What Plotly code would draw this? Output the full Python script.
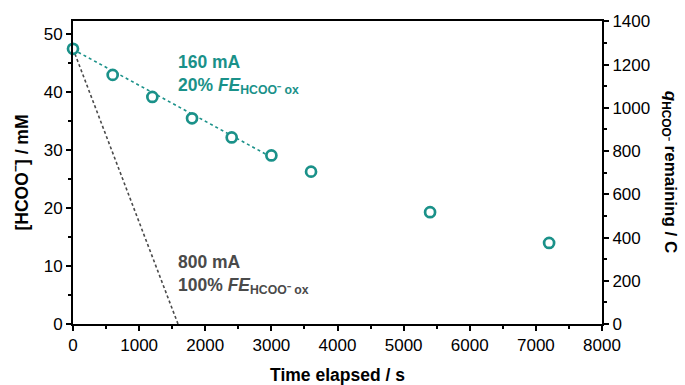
import plotly.graph_objects as go

# Data
time_s = [0, 600, 1200, 1800, 2400, 3000, 3600, 5400, 7200]
hcoo_mM = [47.5, 43.0, 39.2, 35.5, 32.2, 29.1, 26.3, 19.3, 14.0]
fit_160_x = [0, 3000]
fit_160_y = [47.4, 28.8]
theory_800_x = [0, 1588]
theory_800_y = [47.5, 0]
x_ticks = [0, 1000, 2000, 3000, 4000, 5000, 6000, 7000, 8000]
y_ticks = [0, 10, 20, 30, 40, 50]
y2_ticks = [0, 200, 400, 600, 800, 1000, 1200, 1400]

TEAL = "#1a9189"
GRAY = "#4a4a4a"
FONT = "Liberation Sans, Arial, sans-serif"

fig = go.Figure()
fig.add_trace(go.Scatter(x=theory_800_x, y=theory_800_y, mode="lines",
                         line=dict(color=GRAY, width=1.6, dash="3px,2.5px"),
                         showlegend=False, hoverinfo="skip"))
fig.add_trace(go.Scatter(x=fit_160_x, y=fit_160_y, mode="lines",
                         line=dict(color=TEAL, width=1.6, dash="3px,3px"),
                         showlegend=False, hoverinfo="skip"))
fig.add_trace(go.Scatter(x=time_s, y=hcoo_mM, mode="markers",
                         marker=dict(symbol="circle", size=10, color="white",
                                     line=dict(color=TEAL, width=2.7)),
                         showlegend=False, cliponaxis=False))
# invisible trace to anchor the secondary axis
fig.add_trace(go.Scatter(x=[0], y=[0], yaxis="y2", mode="markers",
                         marker=dict(opacity=0), showlegend=False, hoverinfo="skip"))

axis_common = dict(showgrid=False, zeroline=False, showline=True, linecolor="black",
                   linewidth=2, ticks="outside", ticklen=5, tickwidth=2, tickcolor="black",
                   automargin=False,
                   tickfont=dict(family=FONT, size=17, color="black"))

fig.update_layout(
    width=685, height=385,
    margin=dict(l=73, r=83, t=21, b=61),
    plot_bgcolor="white", paper_bgcolor="white",
    xaxis=dict(range=[0, 8000], tickvals=x_ticks, mirror=True,
               minor=dict(ticks="outside", ticklen=3, tickwidth=2, dtick=500, tickcolor="black"),
               title=dict(text="<b>Time elapsed / s</b>", font=dict(family=FONT, size=17.5, color="black"),
                          standoff=14),
               **axis_common),
    yaxis=dict(range=[0, 52.3], tickvals=y_ticks,
               minor=dict(ticks="outside", ticklen=3, tickwidth=2, dtick=5, tickcolor="black"),
               title=dict(text="<b>[HCOO<sup>−</sup>] / mM</b>", font=dict(family=FONT, size=17.5, color="black"),
                          standoff=11),
               **axis_common),
    yaxis2=dict(range=[0, 1402], tickvals=y2_ticks, overlaying="y", side="right",
                minor=dict(ticks="outside", ticklen=3, tickwidth=2, dtick=100, tickcolor="black"),
                **axis_common),
)

fig.add_annotation(xref="paper", yref="paper", x=1.128, y=0.5, xanchor="center", yanchor="middle",
                   text="<b><i>q</i><sub>HCOO⁻</sub> remaining / C</b>", textangle=90, showarrow=False,
                   font=dict(family=FONT, size=17, color="black"))

fig.add_annotation(xref="x", yref="y", x=1560, y=47.3, xanchor="left", yanchor="top", align="left",
                   text="<b>160 mA<br>20% <i>FE</i><sub>HCOO⁻ ox</sub></b>", showarrow=False,
                   font=dict(family=FONT, size=17.5, color=TEAL))
fig.add_annotation(xref="x", yref="y", x=1560, y=12.8, xanchor="left", yanchor="top", align="left",
                   text="<b>800 mA<br>100% <i>FE</i><sub>HCOO⁻ ox</sub></b>", showarrow=False,
                   font=dict(family=FONT, size=17.5, color=GRAY))

fig.write_html("out.html")
